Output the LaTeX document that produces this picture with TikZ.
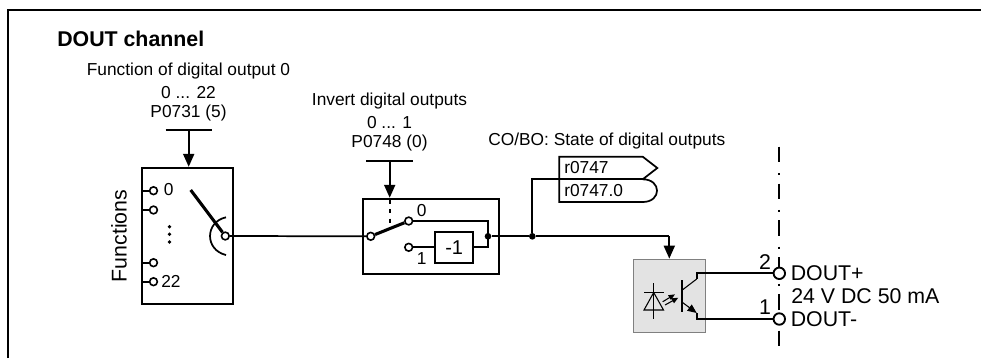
\documentclass[tikz,border=0pt]{standalone}
\usepackage{fontspec}
\setmainfont{Liberation Sans}
\usetikzlibrary{positioning,arrows.meta,calc}

\begin{document}
\begin{tikzpicture}[x=0.75pt,y=-0.75pt,
  txt/.style={inner sep=0pt, font=\fontsize{13pt}{15pt}\selectfont, align=center},
  big/.style={txt, font=\fontsize{16pt}{18pt}\selectfont},
  wire/.style={line width=1.3pt},
  thick wire/.style={line width=2.3pt},
  thin wire/.style={line width=0.8pt},
  blk/.style={draw, line width=1.3pt, inner sep=0pt},
  term/.style={circle, draw, fill=white, line width=1.2pt, minimum size=5.8pt, inner sep=0pt},
  pin/.style={term, line width=1.4pt, minimum size=8.6pt},
  dot/.style={circle, fill=black, minimum size=5pt, inner sep=0pt},
  ray/.style={thin wire, -{Stealth[length=1.7mm,width=1.4mm,inset=0pt]}},
  >={Stealth[length=3.4mm, width=2.9mm, inset=0pt]}]
\useasboundingbox (0,0) rectangle (981,358);
% frame
\coordinate (fa) at (8,358);
\coordinate (fb) at (8,10);
\coordinate (fc) at (981,10);
\draw[line width=2.1pt] (fa) -- (fb) -- (fc);
\node[big, font=\fontsize{16pt}{18pt}\selectfont\bfseries, anchor=west] (title) at (57,39) {DOUT channel};
% parameters
\node[txt] (fnA) at (188.5,71) {Function of digital output 0};
\node[txt] (fnB) at (188.5,92.5) {0 ... 22};
\node[txt] (fnC) at (188.5,113.5) {P0731 (5)};
\node[txt] (invA) at (389.5,101.5) {Invert digital outputs};
\node[txt] (invB) at (389.5,122.5) {0 ... 1};
\node[txt] (invC) at (389.5,143.5) {P0748 (0)};
\node[txt, anchor=west] (state) at (488,141) {CO/BO: State of digital outputs};
% function selector
\node[blk, minimum width=68pt, minimum height=102.5pt] (fbox) at (187.5,236) {};
\node[big, rotate=90] (fname) at (119,236) {Functions};
\foreach \n/\y in {a/190.7,b/210,c/262.7,d/281.7} {
  \node[term] (f\n) at (153.5,\y) {};
  \draw[wire] (f\n.west) -- (f\n.west -| fbox.west);
}
\node[txt, anchor=west] (fzero) at (163.5,190) {0};
\node[txt, anchor=west] (flast) at (161,281) {22};
\foreach \n/\y in {a/226.7,b/234.3,c/242} \node[dot, minimum size=2.8pt] (v\n) at (169.5,\y) {};
\node[term] (fout) at (225.3,236) {};
\coordinate (farm) at (190.7,190);
\coordinate (ftop) at (226,217.3);
\coordinate (fbot) at (226,255);
\draw[thick wire] (farm) -- (fout);
\draw[wire] (ftop) .. controls (204.7,222) and (204.7,250) .. (fbot);
% invert block
\node[blk, minimum width=102.5pt, minimum height=56.5pt] (ibox) at (431,236.3) {};
\node[term] (iin) at (370.7,236.3) {};
\node[term] (izero) at (408.7,221) {};
\node[term] (ione) at (408.7,247.3) {};
\node[blk, minimum width=28.7pt, minimum height=23pt, font=\fontsize{15pt}{17pt}\selectfont] (neg) at (454.2,247.3) {-1};
\node[dot] (ijoin) at (488,236.3) {};
\node[txt] (lzero) at (421.7,211) {0};
\node[txt] (lone) at (421.7,258.5) {1};
\draw[thick wire] (iin) -- (izero);
\draw[wire] (izero) -| (ijoin.center) |- (neg.east);
\draw[wire] (ione) -- (neg.west);
\draw[wire] (fout) -- (iin);
% outputs
\node[dot] (split) at (532.3,236.3) {};
\coordinate (fork) at (669.3,236.3);
\draw[wire] (ijoin) -- (split) -- (fork);
\coordinate (tagR) at (642.7,179.3);
\coordinate (tagT) at (559.3,156.7);
\coordinate (tagB) at (559.3,202);
\draw[wire] (tagR) -- (657.3,168) -- (642.7,156.7) -- (tagT) -- (tagB) -- (642.7,202)
  .. controls (661.8,202) and (661.8,179.3) .. (tagR);
\draw[wire] (split) |- (tagR);
\node[txt, anchor=west] (tagA) at (564,168) {r0747};
\node[txt, anchor=west] (tagC) at (564,190.5) {r0747.0};
% parameter arrows
\coordinate (fbarL) at (165.7,130);
\coordinate (fbarR) at (211.7,130);
\coordinate (fbarM) at (188.7,130);
\draw[wire] (fbarL) -- (fbarR);
\draw[wire,->] (fbarM) -- (fbarM |- fbox.north);
\coordinate (ibarL) at (366,160.7);
\coordinate (ibarR) at (413.3,160.7);
\coordinate (ibarM) at (389.7,160.7);
\draw[wire] (ibarL) -- (ibarR);
\draw[wire,->] (ibarM) -- (ibarM |- ibox.north);
\coordinate (dashT) at (389.7,200);
\coordinate (dashB) at (389.7,225);
\draw[wire, dash pattern=on 3pt off 4pt] (dashT) -- (dashB);
% terminal axis
\coordinate (axisT) at (778.7,146.7);
\coordinate (axisB) at (778.7,346);
\draw[wire, dash pattern=on 11.8pt off 8pt on 1.5pt off 6.3pt] (axisT) -- (axisB);
% optocoupler
\node[draw=gray, fill=gray!22, line width=1.1pt, minimum width=54.3pt, minimum height=55pt, inner sep=0pt] (opto) at (669.5,296) {};
\draw[wire,->] (fork) -- (fork |- opto.north);
\node[pin] (pinA) at (779.3,273.3) {};
\node[pin] (pinB) at (779.3,319) {};
\coordinate (colA) at (696.7,273.3);
\coordinate (colM) at (696.7,279);
\coordinate (emiA) at (696.7,319);
\coordinate (colB) at (682.3,290);
\coordinate (emiB) at (682.3,302.3);
\coordinate (emiC) at (696.7,313);
\draw[wire] (pinA) -- (colA) -- (colM);
\draw[thin wire] (colM) -- (colB);
\draw[wire] (pinB) -- (emiA) -- (emiC);
\draw[thin wire, -{Stealth[length=2.4mm,width=2mm,inset=0pt]}] (emiB) -- (emiC);
\coordinate (baseT) at (682.3,280);
\coordinate (baseB) at (682.3,312.3);
\draw[line width=1.7pt] (baseT) -- (baseB);
\coordinate (diT) at (653.7,283.3);
\coordinate (diB) at (653.7,319);
\coordinate (diL) at (644,310);
\coordinate (diR) at (663.5,310);
\coordinate (diM) at (653.7,292.5);
\draw[thin wire] (diT) -- (diB);
\draw[thin wire] (diL) -- (diR) -- (diM) -- cycle;
\coordinate (barL) at (644,292.3);
\coordinate (barR) at (663.5,292.3);
\draw[thin wire] (barL) -- (barR);
\coordinate (rayA) at (662.7,301.7);
\coordinate (rayB) at (675,294.3);
\coordinate (rayC) at (665,305);
\coordinate (rayD) at (678.3,297.7);
\draw[ray] (rayA) -- (rayB);
\draw[ray] (rayC) -- (rayD);
% terminal labels
\node[big] (ptwo) at (765,262.5) {2};
\node[big] (pone) at (765,307) {1};
\node[big, anchor=west] (doutp) at (790.5,273.5) {DOUT+};
\node[big, anchor=west] (rate) at (791,296) {24 V DC 50 mA};
\node[big, anchor=west] (doutm) at (790.5,319.5) {DOUT-};
\end{tikzpicture}
\end{document}
